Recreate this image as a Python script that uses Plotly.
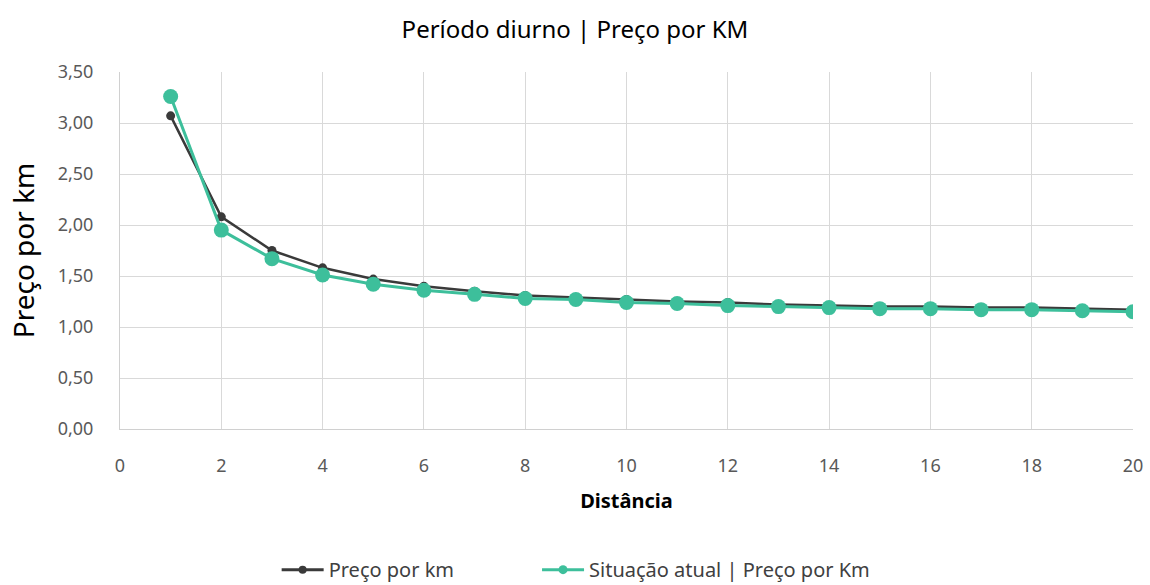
import plotly.graph_objects as go

distancia = list(range(1, 21))
preco_km = [3.07, 2.08, 1.75, 1.58, 1.47, 1.40, 1.35, 1.31, 1.29, 1.27,
            1.25, 1.24, 1.22, 1.21, 1.20, 1.20, 1.19, 1.19, 1.18, 1.17]
situacao_atual = [3.26, 1.95, 1.67, 1.51, 1.42, 1.36, 1.32, 1.28, 1.27, 1.24,
                  1.23, 1.21, 1.20, 1.19, 1.18, 1.18, 1.17, 1.17, 1.16, 1.15]
y_ticks = [0, 0.5, 1.0, 1.5, 2.0, 2.5, 3.0, 3.5]
y_labels = ["0,00", "0,50", "1,00", "1,50", "2,00", "2,50", "3,00", "3,50"]
x_ticks = list(range(0, 21, 2))

DARK = "#3a3a3a"
GREEN = "#3dbf9b"
NB = "\u00a0"

fig = go.Figure()
fig.add_trace(go.Scatter(
    x=distancia, y=preco_km, name="Preço por km", mode="lines+markers",
    line=dict(color=DARK, width=2.5),
    marker=dict(color=DARK, size=9), showlegend=False))
fig.add_trace(go.Scatter(
    x=distancia, y=situacao_atual, name="Situação atual | Preço por Km",
    mode="lines+markers",
    line=dict(color=GREEN, width=3),
    marker=dict(color=GREEN, size=15), showlegend=False))
# legend entries (small markers like the reference)
fig.add_trace(go.Scatter(
    x=[None], y=[None], name="Preço por km" + NB * 15, mode="lines+markers",
    line=dict(color=DARK, width=3), marker=dict(color=DARK, size=8)))
fig.add_trace(go.Scatter(
    x=[None], y=[None], name="Situação atual | Preço por Km", mode="lines+markers",
    line=dict(color=GREEN, width=3), marker=dict(color=GREEN, size=9)))

fig.update_layout(
    width=1150, height=585,
    paper_bgcolor="white", plot_bgcolor="white",
    margin=dict(l=120, r=17, t=72, b=156, autoexpand=False),
    font=dict(family="Noto Sans, Open Sans, sans-serif", color="#595959"),
    title=dict(text="Período diurno | Preço por KM", x=0.5, xanchor="center",
               y=0.949, yanchor="middle",
               font=dict(size=24, color="#000000")),
    showlegend=True,
    legend=dict(orientation="h", xref="container", x=0.501, xanchor="center",
                y=-0.394, yanchor="middle",
                font=dict(size=20, color="#404040"), itemwidth=42),
    xaxis=dict(range=[0, 20], tickvals=x_ticks, showgrid=True,
               gridcolor="#d9d9d9", gridwidth=1, zeroline=False,
               showline=True, linecolor="#d0d0d0", ticks="outside", ticklen=20,
               tickcolor="rgba(0,0,0,0)",
               tickfont=dict(size=18, color="#595959"),
               title=dict(text="<b>Distância</b>", font=dict(size=20, color="#000000"),
                          standoff=18)),
    yaxis=dict(range=[0, 3.5], tickvals=y_ticks, ticktext=y_labels, showgrid=True,
               gridcolor="#d9d9d9", gridwidth=1, zeroline=False,
               showline=True, linecolor="#d0d0d0", ticks="outside", ticklen=22,
               tickcolor="rgba(0,0,0,0)",
               tickfont=dict(size=18, color="#595959"),
               title=dict(text="Preço por km", font=dict(size=28, color="#000000"),
                          standoff=14)),
)

fig.write_html("out.html",
               config={"displayModeBar": False},
               post_script="document.body.style.margin='0';"
                           "document.body.style.overflow='hidden';")
